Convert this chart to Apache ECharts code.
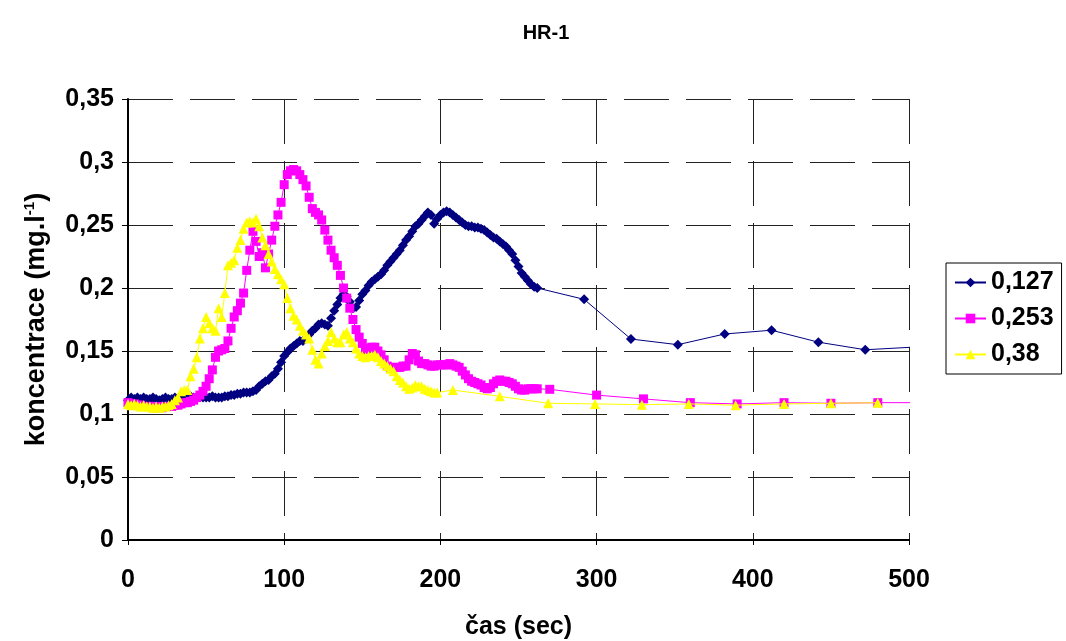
<!DOCTYPE html>
<html>
<head>
<meta charset="utf-8">
<script src="https://cdn.jsdelivr.net/npm/echarts@6/dist/echarts.min.js"></script>
<style>
  html, body { margin: 0; padding: 0; background: #fff; }
  #main { width: 1066px; height: 641px; }
</style>
</head>
<body>
<div id="main"></div>
<script>
// čas (sec) a koncentrace pro tři série
var xTicks = [0, 100, 200, 300, 400, 500];
var yTicks = [0, 0.05, 0.1, 0.15, 0.2, 0.25, 0.3, 0.35];
var seriesNames = ['0,127', '0,253', '0,38'];

var t127 = [0,2,4,6,8,10,12,14,16,18,20,22,24,26,28,30,32,34,36,38,40,42,44,46,48,50,52,54,56,58,60,62,64,66,68,70,72,74,76,78,
  80,82,84,86,88,90,92,94,96,98,100,102,104,106,108,110,112,114,116,118,120,122,124,126,128,130,132,134,136,138,
  140,142,144,146,148,150,152,154,156,158,160,162,164,166,168,170,172,174,176,178,180,182,184,186,188,190,192,194,196,198,
  200,202,204,206,208,210,212,214,216,218,220,222,224,226,228,230,232,234,236,238,240,242,244,246,248,250,252,254,256,258,
  260,262,292,322,352,382,412,442,472,502];
var c127 = [0.111,0.113,0.112,0.113,0.112,0.113,0.112,0.112,0.113,0.112,0.111,0.112,0.113,0.112,0.112,0.113,0.112,0.113,0.112,0.113,
  0.114,0.113,0.113,0.114,0.113,0.113,0.113,0.114,0.113,0.113,0.113,0.114,0.114,0.115,0.115,0.116,0.116,0.117,0.117,0.117,
  0.118,0.119,0.122,0.124,0.126,0.127,0.130,0.132,0.136,0.141,0.146,0.149,0.152,0.154,0.156,0.158,0.158,0.160,0.163,0.166,
  0.168,0.171,0.172,0.171,0.170,0.176,0.182,0.187,0.192,0.195,0.193,0.189,0.184,0.185,0.190,0.195,0.198,0.202,0.205,0.207,
  0.209,0.211,0.214,0.218,0.221,0.224,0.227,0.230,0.234,0.238,0.241,0.245,0.249,0.251,0.254,0.257,0.260,0.258,0.251,0.255,
  0.258,0.260,0.261,0.260,0.258,0.256,0.254,0.252,0.250,0.249,0.249,0.248,0.248,0.247,0.246,0.244,0.242,0.240,0.239,0.237,
  0.235,0.233,0.230,0.227,0.222,0.217,0.212,0.209,0.206,0.203,0.201,0.200,0.191,0.1595,0.155,0.1635,0.1665,0.157,0.151,0.153];

var t253 = [0,2,4,6,8,10,12,14,16,18,20,22,24,26,28,30,32,34,36,38,40,42,44,46,48,50,52,54,56,58,60,62,64,66,68,70,72,74,76,78,
  80,82,84,86,88,90,92,94,96,98,100,102,104,106,108,110,112,114,116,118,120,122,124,126,128,130,132,134,136,138,
  140,142,144,146,148,150,152,154,156,158,160,162,164,166,168,170,172,174,176,178,180,182,184,186,188,190,192,194,196,198,
  200,202,204,206,208,210,212,214,216,218,220,222,224,226,228,230,232,234,236,238,240,242,244,246,248,250,252,254,256,258,
  260,262,270,300,330,360,390,420,450,480,510];
var c253 = [0.109,0.108,0.108,0.107,0.107,0.106,0.106,0.106,0.105,0.105,0.106,0.105,0.106,0.106,0.106,0.107,0.107,0.108,0.109,0.109,
  0.110,0.111,0.113,0.115,0.118,0.122,0.128,0.135,0.145,0.150,0.151,0.152,0.158,0.168,0.177,0.182,0.188,0.196,0.214,0.230,
  0.245,0.237,0.225,0.228,0.216,0.227,0.238,0.249,0.258,0.268,0.282,0.290,0.293,0.294,0.293,0.290,0.286,0.281,0.272,0.263,
  0.260,0.258,0.254,0.246,0.238,0.230,0.224,0.218,0.210,0.200,0.192,0.184,0.175,0.167,0.161,0.156,0.151,0.152,0.153,0.153,
  0.150,0.147,0.143,0.138,0.137,0.137,0.137,0.137,0.138,0.138,0.143,0.148,0.147,0.142,0.140,0.140,0.139,0.138,0.138,0.139,
  0.139,0.139,0.139,0.140,0.139,0.138,0.137,0.134,0.131,0.128,0.126,0.125,0.124,0.123,0.121,0.120,0.121,0.124,0.126,0.127,
  0.126,0.126,0.125,0.124,0.122,0.120,0.119,0.119,0.120,0.120,0.120,0.120,0.1196,0.115,0.112,0.109,0.108,0.109,0.1085,0.109,0.109];

var t38 = [0,2,4,6,8,10,12,14,16,18,20,22,24,26,28,30,32,34,36,38,40,42,44,46,48,50,52,54,56,58,60,62,64,66,68,70,72,74,76,78,
  80,82,84,86,88,90,92,94,96,98,100,102,104,106,108,110,112,114,116,118,120,122,124,126,128,130,132,134,136,138,
  140,142,144,146,148,150,152,154,156,158,160,162,164,166,168,170,172,174,176,178,180,182,184,186,188,190,192,194,196,198,
  208,238,269,299,329,359,389,420,450,480];
var c38 = [0.108,0.107,0.108,0.107,0.106,0.107,0.106,0.106,0.105,0.106,0.105,0.106,0.106,0.107,0.108,0.111,0.113,0.118,0.119,0.119,
  0.130,0.136,0.145,0.160,0.168,0.177,0.172,0.168,0.166,0.184,0.177,0.196,0.218,0.220,0.222,0.232,0.238,0.247,0.252,0.253,
  0.252,0.255,0.249,0.240,0.234,0.227,0.221,0.215,0.211,0.207,0.203,0.192,0.184,0.178,0.175,0.170,0.166,0.163,0.160,0.151,
  0.143,0.140,0.148,0.154,0.158,0.165,0.160,0.157,0.157,0.163,0.165,0.160,0.157,0.152,0.148,0.146,0.145,0.146,0.146,0.147,
  0.145,0.142,0.140,0.138,0.136,0.134,0.130,0.127,0.125,0.122,0.120,0.121,0.123,0.122,0.122,0.120,0.119,0.118,0.117,0.117,
  0.119,0.114,0.1085,0.108,0.1074,0.108,0.107,0.108,0.1085,0.109];

function zip(t, c) {
  var out = [];
  for (var i = 0; i < t.length; i++) {
    out.push([t[i], c[i]]);
  }
  return out;
}

var font = 'Liberation Sans, Arial, sans-serif';
var comma = function (v) { return String(v).replace('.', ','); };

var chart = echarts.init(document.getElementById('main'));
var option = {
  backgroundColor: '#fff',
  animation: false,
  textStyle: { fontFamily: font },
  title: {
    text: 'HR-1',
    left: 541,
    top: 18,
    textAlign: 'center',
    textStyle: { fontSize: 20, fontWeight: 'bold', color: '#000', fontFamily: font }
  },
  legend: {
    orient: 'vertical',
    left: 946,
    top: 263,
    padding: [7, 8, 7, 8],
    borderColor: '#000',
    borderWidth: 1,
    itemWidth: 31,
    itemHeight: 12,
    itemGap: 11,
    data: seriesNames,
    textStyle: { fontSize: 25, fontWeight: 'bold', color: '#000', fontFamily: font }
  },
  grid: {
    left: 128,
    top: 99,
    right: 157,
    bottom: 101,
    containLabel: false,
    outerBoundsMode: 'none'
  },
  xAxis: {
    type: 'value',
    min: 0,
    max: 500,
    interval: 100,
    name: 'čas (sec)',
    nameLocation: 'middle',
    nameGap: 75,
    nameTextStyle: { fontSize: 25, fontWeight: 'bold', color: '#000', fontFamily: font },
    axisLine: { onZero: false, lineStyle: { color: '#000', width: 2 } },
    axisTick: { show: true, length: 5, lineStyle: { color: '#000', width: 1 } },
    axisLabel: {
      fontSize: 25, fontWeight: 'bold', color: '#000', margin: 28, fontFamily: font,
      formatter: function (v) { return xTicks.indexOf(v) >= 0 ? comma(v) : ''; }
    },
    splitLine: { show: true, lineStyle: { color: '#222', width: 1, type: [45, 17] } }
  },
  yAxis: {
    type: 'value',
    min: 0,
    max: 0.35,
    interval: 0.05,
    name: '{a|koncentrace (mg.l}{b|-1}{a|)}',
    nameLocation: 'middle',
    nameGap: 76,
    nameTextStyle: {
      color: '#000',
      rich: {
        a: { fontSize: 27, fontWeight: 'bold', color: '#000', fontFamily: font, lineHeight: 30 },
        b: { fontSize: 15, fontWeight: 'bold', color: '#000', fontFamily: font, verticalAlign: 'top', lineHeight: 30 }
      }
    },
    axisLine: { show: true, lineStyle: { color: '#000', width: 2 } },
    axisTick: { show: true, length: 6, lineStyle: { color: '#000', width: 1 } },
    axisLabel: {
      fontSize: 25, fontWeight: 'bold', color: '#000', margin: 14, fontFamily: font,
      formatter: function (v) {
        var r = Math.round(v * 100) / 100;
        return yTicks.indexOf(r) >= 0 ? comma(r) : '';
      }
    },
    splitLine: { show: true, lineStyle: { color: '#222', width: 1, type: [45, 17] } }
  },
  series: [{
    name: seriesNames[0],
    type: 'line',
    data: zip(t127, c127),
    symbol: 'diamond',
    symbolSize: 10,
    itemStyle: { color: '#000080' },
    lineStyle: { color: '#000080', width: 1 },
    clip: true,
    z: 3
  }, {
    name: seriesNames[1],
    type: 'line',
    data: zip(t253, c253),
    symbol: 'rect',
    symbolSize: 9,
    itemStyle: { color: '#ff00ff' },
    lineStyle: { color: '#ff00ff', width: 1 },
    clip: true,
    z: 4
  }, {
    name: seriesNames[2],
    type: 'line',
    data: zip(t38, c38),
    symbol: 'triangle',
    symbolSize: 10,
    itemStyle: { color: '#ffff00' },
    lineStyle: { color: '#ffff00', width: 1 },
    clip: true,
    z: 5
  }]
};
chart.setOption(option);
</script>
</body>
</html>
